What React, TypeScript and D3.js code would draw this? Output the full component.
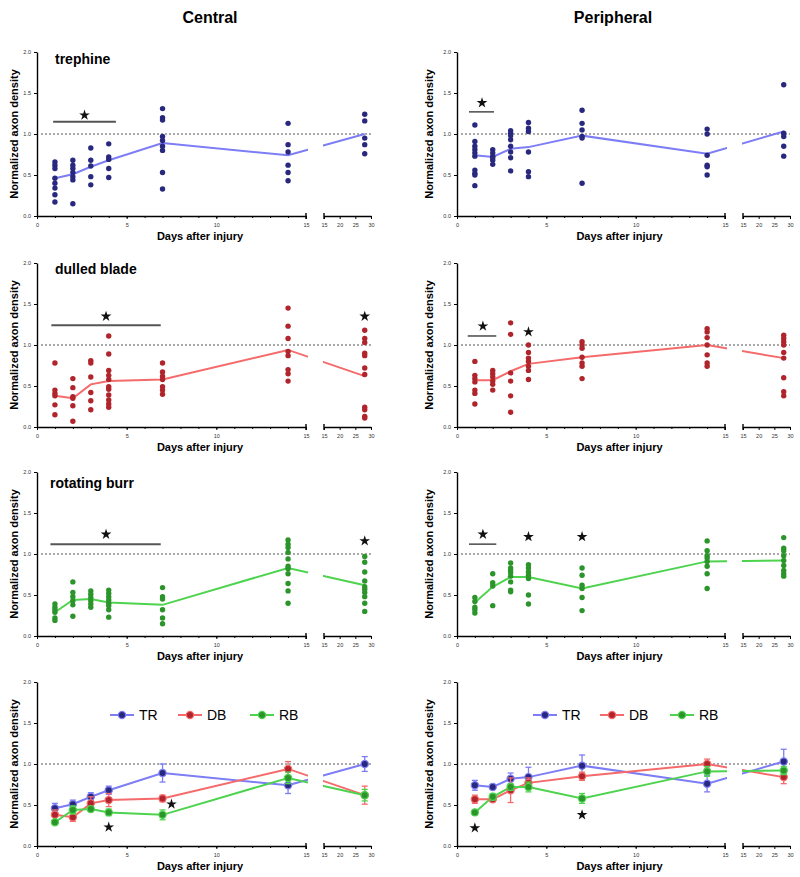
import React, { useRef, useEffect } from 'react';
import * as d3 from 'd3';

const days = [1, 2, 3, 4, 7, 14, 28];

// single animals, one list per day (1, 2, 3, 4, 7, 14, 28)
const trCentral = [
  [0.66, 0.62, 0.58, 0.46, 0.40, 0.34, 0.26, 0.17],
  [0.68, 0.62, 0.58, 0.53, 0.48, 0.44, 0.15],
  [0.83, 0.68, 0.61, 0.48, 0.38],
  [0.88, 0.72, 0.69, 0.58, 0.47],
  [1.31, 1.20, 1.17, 0.97, 0.92, 0.85, 0.80, 0.53, 0.33],
  [1.13, 0.87, 0.78, 0.62, 0.53, 0.43],
  [1.24, 1.16, 0.95, 0.87, 0.76],
];
const dbCentral = [
  [0.78, 0.45, 0.41, 0.38, 0.27, 0.15],
  [0.59, 0.48, 0.37, 0.35, 0.26, 0.07],
  [0.81, 0.78, 0.61, 0.42, 0.32, 0.21],
  [1.11, 0.89, 0.69, 0.63, 0.58, 0.49, 0.46, 0.39, 0.33, 0.28, 0.24],
  [0.78, 0.67, 0.62, 0.58, 0.49, 0.45, 0.40],
  [1.45, 1.23, 1.08, 0.92, 0.87, 0.70, 0.65, 0.56],
  [1.18, 1.08, 1.03, 0.90, 0.87, 0.72, 0.64, 0.24, 0.21, 0.13, 0.11],
];
const rbCentral = [
  [0.39, 0.35, 0.32, 0.29, 0.22, 0.19],
  [0.66, 0.53, 0.48, 0.43, 0.38, 0.24],
  [0.55, 0.51, 0.47, 0.43, 0.39, 0.35],
  [0.56, 0.52, 0.48, 0.44, 0.40, 0.37, 0.32, 0.23],
  [0.59, 0.48, 0.45, 0.32, 0.22, 0.15],
  [1.17, 1.12, 1.08, 1.02, 0.94, 0.85, 0.82, 0.76, 0.64, 0.55, 0.40],
  [0.97, 0.90, 0.78, 0.67, 0.60, 0.57, 0.53, 0.48, 0.40, 0.30],
];
const trPeriph = [
  [1.11, 0.91, 0.85, 0.81, 0.77, 0.73, 0.56, 0.52, 0.50, 0.37],
  [0.81, 0.77, 0.73, 0.71, 0.68, 0.63],
  [1.04, 1.01, 0.98, 0.93, 0.85, 0.78, 0.71, 0.55],
  [1.14, 1.07, 1.03, 0.78, 0.54, 0.48],
  [1.29, 1.13, 1.05, 0.97, 0.95, 0.40],
  [1.06, 1.00, 0.74, 0.62, 0.60, 0.50],
  [1.60, 1.01, 0.97, 0.85, 0.73],
];
const dbPeriph = [
  [0.80, 0.63, 0.59, 0.55, 0.45, 0.41, 0.28],
  [0.69, 0.65, 0.61, 0.56, 0.52, 0.45],
  [1.27, 1.13, 0.66, 0.56, 0.38, 0.18],
  [1.00, 0.91, 0.84, 0.80, 0.74, 0.69, 0.58],
  [1.04, 1.00, 0.96, 0.85, 0.78, 0.74, 0.59],
  [1.20, 1.16, 1.09, 1.00, 0.88, 0.78, 0.74],
  [1.12, 1.08, 1.04, 1.00, 0.91, 0.84, 0.60, 0.43, 0.38],
];
const rbPeriph = [
  [0.47, 0.42, 0.35, 0.32, 0.28],
  [0.76, 0.65, 0.61, 0.37],
  [0.89, 0.83, 0.80, 0.77, 0.73, 0.66, 0.56, 0.54],
  [0.87, 0.83, 0.78, 0.74, 0.70, 0.50, 0.39],
  [0.83, 0.74, 0.62, 0.58, 0.47, 0.31],
  [1.16, 1.04, 0.98, 0.95, 0.91, 0.85, 0.76, 0.58],
  [1.20, 1.07, 1.04, 0.98, 0.92, 0.86, 0.80, 0.76, 0.73],
];

// group means and SEM
const trCentralMean = [0.46, 0.51, 0.60, 0.68, 0.89, 0.74, 1.0];
const dbCentralMean = [0.38, 0.35, 0.52, 0.56, 0.58, 0.94, 0.62];
const rbCentralMean = [0.29, 0.44, 0.45, 0.41, 0.38, 0.83, 0.62];
const trPeriphMean = [0.74, 0.72, 0.82, 0.84, 0.98, 0.76, 1.03];
const dbPeriphMean = [0.57, 0.57, 0.68, 0.77, 0.85, 1.0, 0.84];
const rbPeriphMean = [0.41, 0.60, 0.72, 0.72, 0.58, 0.91, 0.92];

const trCentralSem = [0.06, 0.05, 0.05, 0.05, 0.11, 0.1, 0.09];
const dbCentralSem = [0.06, 0.05, 0.08, 0.08, 0.04, 0.09, 0.11];
const rbCentralSem = [0.03, 0.05, 0.03, 0.04, 0.06, 0.07, 0.07];
const trPeriphSem = [0.06, 0.03, 0.07, 0.12, 0.13, 0.1, 0.15];
const dbPeriphSem = [0.05, 0.03, 0.15, 0.06, 0.05, 0.06, 0.08];
const rbPeriphSem = [0.03, 0.04, 0.04, 0.06, 0.06, 0.06, 0.05];

const groupNames = ['TR', 'DB', 'RB'];
const panelLabels = ['trephine', 'dulled blade', 'rotating burr'];
const columnTitles = ['Central', 'Peripheral'];
const yTicks = [0, 0.5, 1, 1.5, 2];
const xTicksMain = [0, 5, 10, 15];
const xTicksBreak = [15, 20, 25, 30];

// significance bars [fromDay, toDay, value], stars [day, value]
const sigBars = [
  [[[0.9, 4.4, 1.15]], [[0.8, 6.9, 1.24]], [[0.75, 6.9, 1.12]], []],
  [[[0.67, 2.07, 1.27]], [[0.6, 2.2, 1.11]], [[0.67, 2.2, 1.12]], []],
];
const sigStars = [
  [[[2.65, 1.23]], [[3.85, 1.35], [28, 1.35]], [[3.85, 1.24], [28, 1.16]], [[4, 0.23], [7.5, 0.51]]],
  [[[1.4, 1.38]], [[1.45, 1.23], [4, 1.16]], [[1.45, 1.24], [4, 1.21], [7, 1.21]], [[1, 0.22], [7, 0.38]]],
];

const colors = [
  { line: '#7d7df6', dot: '#28287e' },
  { line: '#f56a6a', dot: '#b0242b' },
  { line: '#4ed34e', dot: '#2b942b' },
];

const FONT = "'Liberation Sans', Arial, sans-serif";

const App = () => {
  const svgRef = useRef();

  useEffect(() => {
    const svg = d3.select(svgRef.current);
    svg.selectAll('*').remove();

    const cols = [
      { x0: 37, x15: 306, b0: 324, b1: 371, titleX: 210, yLabelX: 14 },
      { x0: 457, x15: 725, b0: 743, b1: 790, titleX: 613, yLabelX: 429 },
    ];
    const rowTops = [52, 263, 472, 682];
    const labelDy = [12, 11, 16];
    const ph = 164;

    const scatter = [
      [trCentral, dbCentral, rbCentral],
      [trPeriph, dbPeriph, rbPeriph],
    ];
    const means = [
      [trCentralMean, dbCentralMean, rbCentralMean],
      [trPeriphMean, dbPeriphMean, rbPeriphMean],
    ];
    const sems = [
      [trCentralSem, dbCentralSem, rbCentralSem],
      [trPeriphSem, dbPeriphSem, rbPeriphSem],
    ];

    cols.forEach((c, ci) => {
      svg.append('text')
        .attr('x', c.titleX).attr('y', 23)
        .attr('text-anchor', 'middle')
        .style('font', `bold 16px ${FONT}`)
        .text(columnTitles[ci]);

      rowTops.forEach((top, ri) => {
        const g = svg.append('g');
        const y = d3.scaleLinear().domain([0, 2]).range([top + ph, top]);
        const xMain = d3.scaleLinear().domain([0, 15]).range([c.x0, c.x15]);
        const xBrk = d3.scaleLinear().domain([15, 30]).range([c.b0, c.b1]);
        const px = d => (d <= 15 ? xMain(d) : xBrk(d));

        // axes
        const ya = g.append('g').attr('transform', `translate(${c.x0},0)`)
          .call(d3.axisLeft(y).tickValues(yTicks).tickFormat(d3.format('.1f')).tickSize(3).tickSizeOuter(0));
        const xa = g.append('g').attr('transform', `translate(0,${top + ph})`)
          .call(d3.axisBottom(xMain).tickValues(xTicksMain).tickSize(3).tickSizeOuter(0));
        g.append('g').attr('transform', `translate(0,${top + ph})`)
          .call(d3.axisBottom(xMain).tickValues(d3.range(0, 16)).tickSize(2).tickFormat(() => '').tickSizeOuter(0))
          .select('.domain').remove();
        const xb = g.append('g').attr('transform', `translate(0,${top + ph})`)
          .call(d3.axisBottom(xBrk).tickValues(xTicksBreak).tickSize(3).tickSizeOuter(0));
        [ya, xa, xb].forEach(a => {
          a.select('.domain').attr('stroke-width', 1.4);
          a.selectAll('text').style('font', `5.5px ${FONT}`).attr('fill', '#333');
        });
        xa.selectAll('text').attr('dy', '0.9em');
        xb.selectAll('text').attr('dy', '0.9em');
        // break end caps
        [c.x15, c.b0].forEach(xx => {
          g.append('line').attr('x1', xx).attr('x2', xx)
            .attr('y1', top + ph - 3).attr('y2', top + ph + 3)
            .attr('stroke', '#000').attr('stroke-width', 1.4);
        });

        g.append('text')
          .attr('transform', `translate(${c.yLabelX},${top + ph / 2}) rotate(-90)`)
          .attr('text-anchor', 'middle').attr('dy', '0.35em')
          .style('font', `bold 11px ${FONT}`)
          .text('Normalized axon density');
        g.append('text')
          .attr('x', (c.x0 + c.b1) / 2 - 4).attr('y', top + ph + 24)
          .attr('text-anchor', 'middle')
          .style('font', `bold 11px ${FONT}`)
          .text('Days after injury');

        // reference line at 1.0
        g.append('line')
          .attr('x1', c.x0 + 4).attr('x2', c.b1)
          .attr('y1', y(1)).attr('y2', y(1))
          .attr('stroke', '#555').attr('stroke-width', 1.2)
          .attr('stroke-dasharray', '2,2');

        // clip for the broken axis
        const clipId = `clip-${ci}-${ri}`;
        const cp = svg.append('clipPath').attr('id', clipId);
        cp.append('rect').attr('x', 0).attr('y', top - 20).attr('width', c.x15 + 2).attr('height', ph + 40);
        cp.append('rect').attr('x', c.b0 - 1).attr('y', top - 20).attr('width', 800 - c.b0).attr('height', ph + 40);

        const line = d3.line().x((v, i) => px(days[i])).y(v => y(v));

        if (ri < 3) {
          g.append('text')
            .attr('x', ri === 2 ? c.x0 + 13 : c.x0 + 18).attr('y', top + labelDy[ri])
            .style('font', `bold 14px ${FONT}`)
            .text(ci === 0 ? panelLabels[ri] : '');

          const col = colors[ri];
          const pts = scatter[ci][ri].flatMap((vals, i) => vals.map(v => [days[i], v]));
          g.append('path')
            .attr('clip-path', `url(#${clipId})`)
            .attr('d', line(means[ci][ri]))
            .attr('fill', 'none').attr('stroke', col.line).attr('stroke-width', 2);
          g.append('g').selectAll('circle').data(pts).join('circle')
            .attr('cx', d => px(d[0])).attr('cy', d => y(d[1]))
            .attr('r', 2.7).attr('fill', col.dot);
        } else {
          means[ci].forEach((m, k) => {
            const col = colors[k];
            g.append('path')
              .attr('clip-path', `url(#${clipId})`)
              .attr('d', line(m))
              .attr('fill', 'none').attr('stroke', col.line).attr('stroke-width', 2);
          });
          means[ci].forEach((m, k) => {
            const col = colors[k];
            const s = sems[ci][k];
            const eg = g.append('g');
            m.forEach((v, i) => {
              const xx = px(days[i]);
              eg.append('line').attr('x1', xx).attr('x2', xx)
                .attr('y1', y(v - s[i])).attr('y2', y(v + s[i]))
                .attr('stroke', col.line).attr('stroke-width', 1.3);
              [v - s[i], v + s[i]].forEach(e => {
                eg.append('line').attr('x1', xx - 3).attr('x2', xx + 3)
                  .attr('y1', y(e)).attr('y2', y(e))
                  .attr('stroke', col.line).attr('stroke-width', 1.3);
              });
            });
            eg.selectAll('circle').data(m).join('circle')
              .attr('cx', (v, i) => px(days[i])).attr('cy', v => y(v))
              .attr('r', 3.6).attr('fill', col.dot)
              .attr('stroke', col.line).attr('stroke-width', 1.2);
          });

          // legend
          const lx = ci === 0 ? [122, 190, 262] : [545, 612, 682];
          groupNames.forEach((name, k) => {
            const col = colors[k];
            const ly = 715;
            g.append('line').attr('x1', lx[k] - 12).attr('x2', lx[k] + 12)
              .attr('y1', ly).attr('y2', ly)
              .attr('stroke', col.line).attr('stroke-width', 2);
            g.append('circle').attr('cx', lx[k]).attr('cy', ly).attr('r', 3.6)
              .attr('fill', col.dot).attr('stroke', col.line).attr('stroke-width', 1.2);
            g.append('text').attr('x', lx[k] + 17).attr('y', ly).attr('dy', '0.36em')
              .style('font', `14px ${FONT}`).text(name);
          });
        }

        // significance
        sigBars[ci][ri].forEach(([a, b, v]) => {
          g.append('line')
            .attr('x1', px(a)).attr('x2', px(b))
            .attr('y1', y(v)).attr('y2', y(v))
            .attr('stroke', '#555').attr('stroke-width', ci === 0 ? 2 : 1.6);
        });
        const star = d3.symbol().type(d3.symbolStar).size(36);
        sigStars[ci][ri].forEach(([d, v]) => {
          g.append('path')
            .attr('transform', `translate(${px(d)},${y(v)})`)
            .attr('d', star()).attr('fill', '#111');
        });
      });
    });
  }, []);

  return (
    <div style={{ position: 'absolute', left: 0, top: 0 }}>
      <svg ref={svgRef} width={800} height={877} style={{ display: 'block', background: '#fff' }}></svg>
    </div>
  );
};

export default App;
